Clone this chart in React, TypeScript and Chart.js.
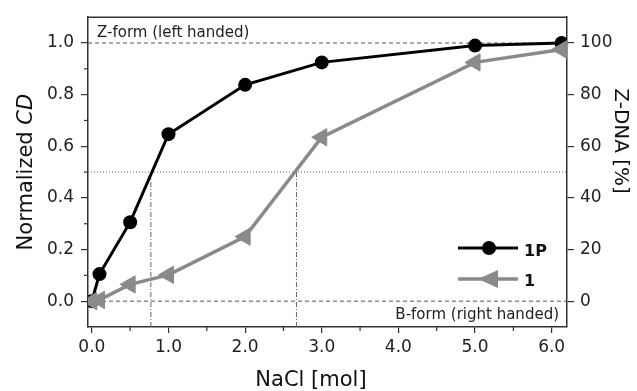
import React, { useEffect, useRef } from "react";
import { Chart, registerables } from "chart.js";

Chart.register(...registerables);

// ---- data ----
const naCl1P = [0, 0.1, 0.5, 1.0, 2.0, 3.0, 5.0, 6.13];
const cd1P = [0, 0.105, 0.306, 0.647, 0.838, 0.925, 0.99, 1.0];
const naCl1 = [0, 0.1, 0.5, 1.0, 2.0, 3.0, 5.0, 6.13];
const cd1 = [0, 0.005, 0.065, 0.102, 0.25, 0.635, 0.925, 0.975];

const xTicks = [0, 1, 2, 3, 4, 5, 6];
const xMinorTicks = [0.5, 1.5, 2.5, 3.5, 4.5, 5.5];
const yTicks = [0, 0.2, 0.4, 0.6, 0.8, 1.0];
const yMinorTicks = [0.1, 0.3, 0.5, 0.7, 0.9];
const y2Ticks = [0, 20, 40, 60, 80, 100];

const halfLevel = 0.5;
const zLevel = 1.0;
const bLevel = 0.0;
const midpointsX = [0.77, 2.67];
const xRange = [-0.05, 6.2];
const yRange = [-0.1, 1.1];

const FONT = "'DejaVu Sans', sans-serif";
const AXIS = "#333333";
const GRAY = "#8a8a8a";

const overlayPlugin = {
  id: "overlay",
  afterDatasetsDraw(chart: any) {
    const { ctx, chartArea } = chart;
    const { left, right, top, bottom } = chartArea;
    const x = chart.scales.x;
    const y = chart.scales.y;
    ctx.save();
    // top border
    ctx.strokeStyle = AXIS;
    ctx.lineWidth = 1.5;
    ctx.beginPath();
    ctx.moveTo(left, top);
    ctx.lineTo(right, top);
    ctx.stroke();
    // minor ticks
    ctx.lineWidth = 1.2;
    xMinorTicks.forEach((v) => {
      const px = x.getPixelForValue(v);
      ctx.beginPath();
      ctx.moveTo(px, bottom);
      ctx.lineTo(px, bottom + 4);
      ctx.stroke();
    });
    yMinorTicks.forEach((v) => {
      const py = y.getPixelForValue(v);
      ctx.beginPath();
      ctx.moveTo(left, py);
      ctx.lineTo(left - 4, py);
      ctx.stroke();
    });
    // annotation texts
    ctx.fillStyle = "#222";
    ctx.font = `15px ${FONT}`;
    ctx.textBaseline = "alphabetic";
    ctx.textAlign = "left";
    ctx.fillText("Z-form (left handed)", left + 9, y.getPixelForValue(zLevel) - 6);
    ctx.textAlign = "right";
    ctx.fillText("B-form (right handed)", right - 8, y.getPixelForValue(bLevel) + 18);

    // legend
    const lx1 = 458, lx2 = 518, lmx = 489;
    const ly1 = 248, ly2 = 279;
    ctx.lineWidth = 3;
    ctx.strokeStyle = "#000";
    ctx.beginPath();
    ctx.moveTo(lx1, ly1);
    ctx.lineTo(lx2, ly1);
    ctx.stroke();
    ctx.fillStyle = "#000";
    ctx.beginPath();
    ctx.arc(lmx, ly1, 7, 0, Math.PI * 2);
    ctx.fill();
    ctx.strokeStyle = GRAY;
    ctx.lineWidth = 3.5;
    ctx.beginPath();
    ctx.moveTo(lx1, ly2);
    ctx.lineTo(lx2, ly2);
    ctx.stroke();
    ctx.fillStyle = GRAY;
    ctx.beginPath();
    ctx.moveTo(lmx - 11, ly2);
    ctx.lineTo(lmx + 9, ly2 - 9);
    ctx.lineTo(lmx + 9, ly2 + 9);
    ctx.closePath();
    ctx.fill();
    ctx.fillStyle = "#111";
    ctx.textAlign = "left";
    ctx.font = `bold 16px ${FONT}`;
    ctx.fillText("1P", 524, 256);
    ctx.fillText("1", 524, 286);

    // axis titles
    ctx.fillStyle = "#111";
    ctx.font = `21px ${FONT}`;
    ctx.textAlign = "center";
    ctx.fillText("NaCl [mol]", 311, 386);

    const cy = (top + bottom) / 2;
    // left title with italic CD
    ctx.save();
    ctx.translate(32, cy);
    ctx.rotate(-Math.PI / 2);
    ctx.textAlign = "left";
    ctx.font = `21px ${FONT}`;
    const p1 = "Normalized ";
    const w1 = ctx.measureText(p1).width;
    ctx.font = `italic 21px ${FONT}`;
    const w2 = ctx.measureText("CD").width;
    const start = -(w1 + w2) / 2;
    ctx.font = `21px ${FONT}`;
    ctx.fillText(p1, start, 0);
    ctx.font = `italic 21px ${FONT}`;
    ctx.fillText("CD", start + w1, 0);
    ctx.restore();

    // right title
    ctx.save();
    ctx.translate(615, cy - 31);
    ctx.rotate(Math.PI / 2);
    ctx.textAlign = "center";
    ctx.font = `20px ${FONT}`;
    ctx.fillText("Z-DNA [%]", 0, 0);
    ctx.restore();

    ctx.restore();
  },
};

export default function App() {
  const ref = useRef<HTMLCanvasElement | null>(null);
  useEffect(() => {
    document.body.style.margin = "0";
    const canvas = ref.current!;
    const refLine = (pts: { x: number; y: number }[], dash: number[], color: string) => ({
      type: "line" as const,
      data: pts,
      borderColor: color,
      borderWidth: 1,
      borderDash: dash,
      pointRadius: 0,
      fill: false,
      order: 10,
      yAxisID: "y",
    });
    const datasets: any[] = [
      {
        label: "1",
        data: naCl1.map((v, i) => ({ x: v, y: cd1[i] })),
        borderColor: GRAY,
        backgroundColor: GRAY,
        borderWidth: 3.5,
        pointStyle: "triangle",
        pointRotation: -90,
        pointRadius: 10,
        pointBorderWidth: 1,
        pointBorderColor: GRAY,
        pointBackgroundColor: GRAY,
        order: 0,
        yAxisID: "y",
      },
      {
        label: "1P",
        data: naCl1P.map((v, i) => ({ x: v, y: cd1P[i] })),
        borderColor: "#000",
        backgroundColor: "#000",
        borderWidth: 3,
        pointStyle: "circle",
        pointRadius: 7,
        pointBorderWidth: 0,
        order: 1,
        yAxisID: "y",
      },
      refLine([{ x: xRange[0], y: zLevel }, { x: xRange[1], y: zLevel }], [4, 3], "#555"),
      refLine([{ x: xRange[0], y: bLevel }, { x: xRange[1], y: bLevel }], [4, 3], "#555"),
      refLine([{ x: xRange[0], y: halfLevel }, { x: xRange[1], y: halfLevel }], [1, 2], "#666"),
      ...midpointsX.map((mx) =>
        refLine([{ x: mx, y: yRange[0] }, { x: mx, y: halfLevel }], [5, 2, 1, 2], "#666")
      ),
    ];
    const tickFont = { family: FONT, size: 17 };
    const chart = new Chart(canvas, {
      type: "line",
      data: { datasets },
      plugins: [overlayPlugin],
      options: {
        animation: false,
        responsive: false,
        layout: { padding: { top: 15, left: 0, right: 0, bottom: 0 } },
        plugins: { legend: { display: false }, tooltip: { enabled: false } },
        scales: {
          x: {
            type: "linear",
            min: xRange[0],
            max: xRange[1],
            afterBuildTicks: (s: any) => {
              s.ticks = xTicks.map((v) => ({ value: v }));
            },
            afterFit: (s: any) => {
              s.height = 64;
            },
            ticks: {
              font: tickFont,
              color: "#222",
              padding: 4,
              maxRotation: 0,
              callback: (v: any) => Number(v).toFixed(1),
            },
            grid: { display: true, drawOnChartArea: false, drawTicks: true, tickLength: 6, color: AXIS, lineWidth: 1.2 },
            border: { display: true, color: AXIS, width: 1.5 },
          },
          y: {
            type: "linear",
            position: "left",
            min: yRange[0],
            max: yRange[1],
            afterBuildTicks: (s: any) => {
              s.ticks = yTicks.map((v) => ({ value: v }));
            },
            afterFit: (s: any) => {
              s.width = 88;
            },
            ticks: {
              font: tickFont,
              color: "#222",
              padding: 7,
              callback: (v: any) => Number(v).toFixed(1),
            },
            grid: { display: true, drawOnChartArea: false, drawTicks: true, tickLength: 7, color: AXIS, lineWidth: 1.2 },
            border: { display: true, color: AXIS, width: 1.5 },
          },
          y2: {
            type: "linear",
            position: "right",
            min: -10,
            max: 110,
            afterBuildTicks: (s: any) => {
              s.ticks = y2Ticks.map((v) => ({ value: v }));
            },
            afterFit: (s: any) => {
              s.width = 70;
            },
            ticks: { font: tickFont, color: "#222", padding: 6 },
            grid: { display: true, drawOnChartArea: false, drawTicks: true, tickLength: 7, color: AXIS, lineWidth: 1.2 },
            border: { display: true, color: AXIS, width: 1.5 },
          },
        },
      } as any,
    });
    return () => chart.destroy();
  }, []);
  return (
    <canvas
      ref={ref}
      width={637}
      height={391}
      style={{ display: "block", width: 637, height: 391, background: "#fff" }}
    />
  );
}
